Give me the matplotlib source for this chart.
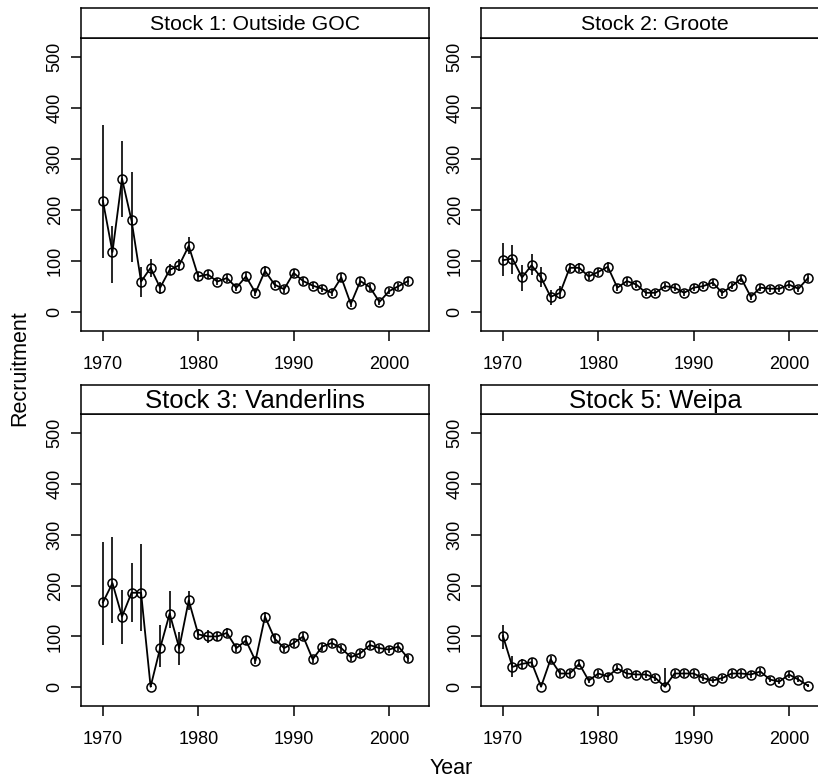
import matplotlib
matplotlib.use("Agg")
import matplotlib.pyplot as plt
from matplotlib import font_manager
import numpy as np

plt.rcParams['font.family'] = ['Liberation Sans', 'DejaVu Sans']

# condensed face for the rotated y tick labels, if present
installed = {f.name for f in font_manager.fontManager.ttflist}
narrow = 'Liberation Sans Narrow' if 'Liberation Sans Narrow' in installed else 'Liberation Sans'

years = list(range(1970, 2003))

titles = ["Stock 1: Outside GOC", "Stock 2: Groote", "Stock 3: Vanderlins", "Stock 5: Weipa"]

rec_goc = [218, 118, 262, 180, 60, 87, 48, 83, 92, 130, 70, 74, 60, 67, 48, 70, 38,
           81, 54, 45, 77, 61, 52, 46, 38, 68, 16, 61, 49, 20, 41, 51, 61]
lo_goc = [107, 57, 186, 98, 30, 69, 36, 72, 80, 115, 62, 66, 53, 59, 41, 62, 31,
          72, 47, 38, 69, 54, 45, 39, 31, 60, 10, 54, 42, 14, 35, 44, 54]
hi_goc = [367, 169, 335, 276, 89, 105, 60, 95, 104, 147, 78, 82, 67, 75, 55, 78, 45,
          90, 61, 52, 85, 68, 59, 53, 45, 76, 22, 68, 56, 26, 47, 58, 68]

rec_groote = [102, 105, 68, 92, 68, 30, 38, 87, 87, 70, 79, 89, 48, 61, 54, 38, 38,
              51, 48, 38, 48, 51, 58, 38, 51, 66, 30, 48, 46, 46, 54, 46, 67]
lo_groote = [70, 74, 41, 72, 49, 15, 26, 79, 79, 63, 71, 81, 42, 54, 48, 32, 32,
             45, 42, 32, 42, 45, 51, 32, 45, 59, 24, 42, 40, 40, 48, 40, 60]
hi_groote = [135, 131, 92, 115, 89, 43, 52, 96, 96, 78, 87, 98, 55, 68, 61, 44, 44,
             57, 55, 44, 55, 57, 65, 44, 57, 73, 36, 55, 52, 52, 61, 52, 74]

rec_vand = [167, 205, 139, 186, 186, 1, 77, 145, 77, 171, 104, 100, 100, 107, 77, 92, 52,
            139, 96, 77, 87, 100, 55, 80, 87, 77, 59, 67, 83, 77, 74, 80, 57]
lo_vand = [83, 126, 85, 128, 111, 0, 40, 117, 44, 153, 93, 88, 91, 98, 69, 84, 45,
           130, 88, 70, 79, 92, 48, 72, 79, 70, 52, 60, 75, 70, 67, 72, 50]
hi_vand = [286, 296, 192, 245, 282, 3, 122, 189, 109, 189, 115, 112, 109, 116, 85, 100, 59,
           148, 104, 84, 95, 108, 62, 88, 95, 84, 66, 74, 91, 84, 81, 88, 64]

rec_weipa = [101, 40, 46, 49, 1, 55, 27, 27, 46, 13, 27, 21, 37, 27, 25, 25, 18,
             1, 27, 27, 27, 18, 13, 18, 27, 27, 25, 31, 15, 11, 25, 15, 3]
lo_weipa = [76, 20, 36, 42, 0, 48, 21, 21, 39, 8, 21, 15, 31, 21, 19, 19, 12,
            0, 21, 21, 21, 12, 8, 12, 21, 21, 19, 25, 10, 6, 19, 10, 0]
hi_weipa = [122, 62, 56, 57, 3, 62, 33, 33, 53, 18, 33, 27, 43, 33, 31, 31, 24,
            37, 33, 33, 33, 24, 18, 24, 33, 33, 31, 37, 20, 16, 31, 20, 7]

series = [(rec_goc, lo_goc, hi_goc), (rec_groote, lo_groote, hi_groote),
          (rec_vand, lo_vand, hi_vand), (rec_weipa, lo_weipa, hi_weipa)]

yticks = [0, 100, 200, 300, 400, 500]
xticks = [1970, 1980, 1990, 2000]

W, H = 818, 780
fig = plt.figure(figsize=(W / 100, H / 100), dpi=100)

# panel boxes in pixel units: left, top of strip, strip bottom, panel bottom
lefts = [81, 481, 81, 481]
tops = [8, 8, 385, 385]
strip_bottoms = [38, 38, 414, 414]
bottoms = [331, 331, 706, 706]
pw = 348
title_sizes = [15.3, 15.3, 18.5, 18.5]

lw = 1.1
for i in range(4):
    l, t, sb, b = lefts[i], tops[i], strip_bottoms[i], bottoms[i]
    ax = fig.add_axes([l / W, 1 - b / H, pw / W, (b - sb) / H])
    sax = fig.add_axes([l / W, 1 - sb / H, pw / W, (sb - t) / H])

    rec, lo, hi = series[i]
    x = np.array(years)
    ax.vlines(x, lo, hi, color='black', lw=1.2)
    ax.plot(x, rec, color='black', lw=1.3, marker='o', markersize=6.5,
            markerfacecolor='none', markeredgecolor='black', markeredgewidth=1.1)

    ax.set_xlim(1967.7, 2004.2)
    ax.set_ylim(-37, 538)
    ax.set_xticks(xticks)
    ax.set_yticks(yticks)
    ax.set_xticklabels([str(v) for v in xticks], fontsize=13)
    ax.set_yticklabels([str(v) for v in yticks], fontsize=13, rotation=90,
                       va='center', family=[narrow, 'DejaVu Sans'])
    ax.tick_params(axis='both', direction='out', length=7.5, width=lw,
                   top=False, right=False)
    ax.tick_params(axis='x', pad=10.5)
    ax.tick_params(axis='y', pad=5)
    for sp in ax.spines.values():
        sp.set_linewidth(lw)

    sax.set_xticks([])
    sax.set_yticks([])
    for sp in sax.spines.values():
        sp.set_linewidth(lw)
    sax.text(0.5, 0.45, titles[i], transform=sax.transAxes, ha='center',
             va='center', fontsize=title_sizes[i])

fig.text(20 / W, 1 - 368 / H, "Recruitment", rotation=90, ha='center',
         va='center', fontsize=15.5)
fig.text(451 / W, 1 - 768 / H, "Year", ha='center', va='center', fontsize=15.5)

fig.savefig("out.png", dpi=100)
